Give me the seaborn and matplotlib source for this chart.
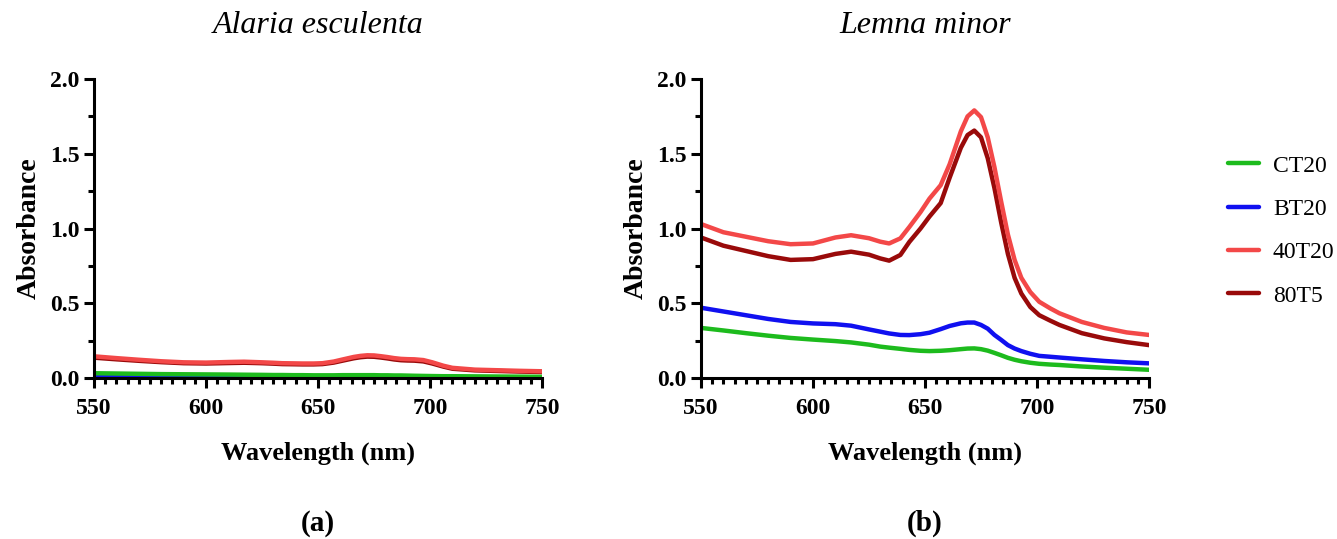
import matplotlib
matplotlib.use("Agg")
import matplotlib.pyplot as plt
from matplotlib.ticker import MultipleLocator, FormatStrFormatter
import seaborn as sns
import pandas as pd

# Wavelength grid (nm) shared by all spectra
wavelength = [550, 560, 570, 580, 590, 600, 610, 617, 625, 630, 634, 639, 643, 648,
              652, 657, 661, 666, 669, 672, 675, 678, 681, 684, 687, 690, 693, 697,
              701, 706, 710, 720, 730, 740, 750]

samples = ["CT20", "BT20", "40T20", "80T5"]
colors = {"CT20": "#1dbb1d", "BT20": "#1010f0", "40T20": "#f34848", "80T5": "#990a0a"}

# (a) Alaria esculenta absorbance spectra
alaria_ct20 = [0.032, 0.030, 0.028, 0.026, 0.025, 0.024, 0.023, 0.022, 0.021, 0.020,
               0.020, 0.019, 0.019, 0.018, 0.018, 0.018, 0.019, 0.019, 0.019, 0.019,
               0.019, 0.018, 0.018, 0.017, 0.017, 0.016, 0.015, 0.014, 0.013, 0.012,
               0.012, 0.011, 0.010, 0.009, 0.008]
alaria_bt20 = [0.006, 0.006, 0.005, 0.005, 0.005, 0.004, 0.004, 0.004, 0.004, 0.004,
               0.003, 0.003, 0.003, 0.003, 0.003, 0.003, 0.003, 0.003, 0.003, 0.003,
               0.003, 0.003, 0.003, 0.002, 0.002, 0.002, 0.002, 0.002, 0.002, 0.002,
               0.001, 0.001, 0.001, 0.001, 0.001]
alaria_40t20 = [0.145, 0.133, 0.122, 0.112, 0.105, 0.103, 0.107, 0.109, 0.105, 0.102,
                0.099, 0.098, 0.097, 0.097, 0.099, 0.110, 0.124, 0.141, 0.148, 0.152,
                0.151, 0.146, 0.140, 0.133, 0.128, 0.126, 0.125, 0.120, 0.105, 0.082,
                0.068, 0.056, 0.052, 0.048, 0.045]
alaria_80t5 = [0.136, 0.125, 0.115, 0.106, 0.099, 0.097, 0.100, 0.102, 0.099, 0.096,
               0.093, 0.092, 0.091, 0.091, 0.093, 0.103, 0.116, 0.132, 0.139, 0.143,
               0.142, 0.137, 0.131, 0.124, 0.119, 0.117, 0.116, 0.111, 0.097, 0.076,
               0.062, 0.051, 0.047, 0.043, 0.040]

# (b) Lemna minor absorbance spectra
lemna_ct20 = [0.335, 0.318, 0.300, 0.283, 0.268, 0.257, 0.247, 0.238, 0.223, 0.210,
              0.203, 0.195, 0.188, 0.182, 0.180, 0.182, 0.186, 0.193, 0.197, 0.198,
              0.193, 0.183, 0.168, 0.152, 0.135, 0.122, 0.112, 0.102, 0.095, 0.090,
              0.087, 0.077, 0.069, 0.062, 0.055]
lemna_bt20 = [0.470, 0.445, 0.420, 0.395, 0.375, 0.365, 0.360, 0.350, 0.325, 0.310,
              0.298, 0.288, 0.287, 0.293, 0.303, 0.327, 0.348, 0.366, 0.371, 0.371,
              0.355, 0.330, 0.288, 0.255, 0.220, 0.197, 0.180, 0.162, 0.148, 0.142,
              0.137, 0.125, 0.114, 0.105, 0.098]
lemna_40t20 = [1.030, 0.975, 0.945, 0.915, 0.895, 0.900, 0.940, 0.955, 0.935, 0.912,
               0.900, 0.934, 1.010, 1.110, 1.200, 1.290, 1.430, 1.650, 1.750, 1.790,
               1.745, 1.610, 1.410, 1.180, 0.960, 0.790, 0.670, 0.575, 0.510, 0.465,
               0.433, 0.375, 0.335, 0.305, 0.288]
lemna_80t5 = [0.940, 0.885, 0.850, 0.815, 0.790, 0.795, 0.830, 0.845, 0.825, 0.800,
              0.785, 0.823, 0.910, 1.000, 1.080, 1.170, 1.340, 1.540, 1.625, 1.655,
              1.610, 1.470, 1.270, 1.040, 0.830, 0.670, 0.565, 0.475, 0.420, 0.383,
              0.355, 0.300, 0.265, 0.240, 0.220]

panels = [
    ("Alaria esculenta", "(a)", {"CT20": alaria_ct20, "BT20": alaria_bt20,
                                 "40T20": alaria_40t20, "80T5": alaria_80t5}),
    ("Lemna minor", "(b)", {"CT20": lemna_ct20, "BT20": lemna_bt20,
                            "40T20": lemna_40t20, "80T5": lemna_80t5}),
]

sns.set_theme(style="ticks")
plt.rcParams["font.family"] = ["Liberation Serif", "DejaVu Serif"]
for key in ("text.color", "axes.labelcolor", "xtick.color", "ytick.color",
            "axes.edgecolor"):
    plt.rcParams[key] = "black"

fig = plt.figure(figsize=(13.37, 5.39), dpi=100)
axes = [fig.add_axes([0.0703, 0.2987, 0.3351, 0.5547]),
        fig.add_axes([0.5243, 0.2987, 0.3351, 0.5547])]

# draw order keeps green above blue and light red above dark red
draw_order = ["80T5", "40T20", "BT20", "CT20"]

for ax, (title, tag, series) in zip(axes, panels):
    df = pd.DataFrame({
        "Wavelength": wavelength * len(samples),
        "Absorbance": sum((series[s] for s in samples), []),
        "Sample": sum(([s] * len(wavelength) for s in samples), []),
    })
    sns.lineplot(data=df, x="Wavelength", y="Absorbance", hue="Sample",
                 hue_order=draw_order, palette=colors, linewidth=3.2,
                 ax=ax, legend=False, sort=False)
    ax.set_xlim(550, 750)
    ax.set_ylim(0, 2.0)
    ax.xaxis.set_major_locator(MultipleLocator(50))
    ax.xaxis.set_minor_locator(MultipleLocator(5))
    ax.yaxis.set_major_locator(MultipleLocator(0.5))
    ax.yaxis.set_minor_locator(MultipleLocator(0.25))
    ax.yaxis.set_major_formatter(FormatStrFormatter("%.1f"))
    sns.despine(ax=ax)
    for side in ("left", "bottom"):
        ax.spines[side].set_linewidth(2.2)
    ax.tick_params(which="major", direction="out", length=7.5, width=2.2,
                   labelsize=17)
    ax.tick_params(axis="x", which="major", pad=7)
    ax.tick_params(axis="y", which="major", pad=3)
    ax.tick_params(which="minor", direction="out", length=4, width=2.2)
    for lab in ax.get_xticklabels() + ax.get_yticklabels():
        lab.set_fontweight("bold")
    ax.set_xlabel("Wavelength (nm)", fontsize=19, fontweight="bold", labelpad=16)
    ax.set_ylabel("Absorbance", fontsize=20, fontweight="bold", labelpad=6)
    ax.set_title(title, fontsize=23, style="italic", pad=33)
    ax.text(0.5, -0.485, tag, transform=ax.transAxes, ha="center", va="center",
            fontsize=21, fontweight="bold")

handles = [plt.Line2D([], [], color=colors[s], linewidth=3.2) for s in samples]
fig.legend(handles, samples, loc="upper left", bbox_to_anchor=(0.9185, 0.712),
           frameon=False, fontsize=17, handlelength=1.3, handletextpad=0.6,
           labelspacing=0.92, borderpad=0, borderaxespad=0)

fig.savefig("out.png", dpi=100)
